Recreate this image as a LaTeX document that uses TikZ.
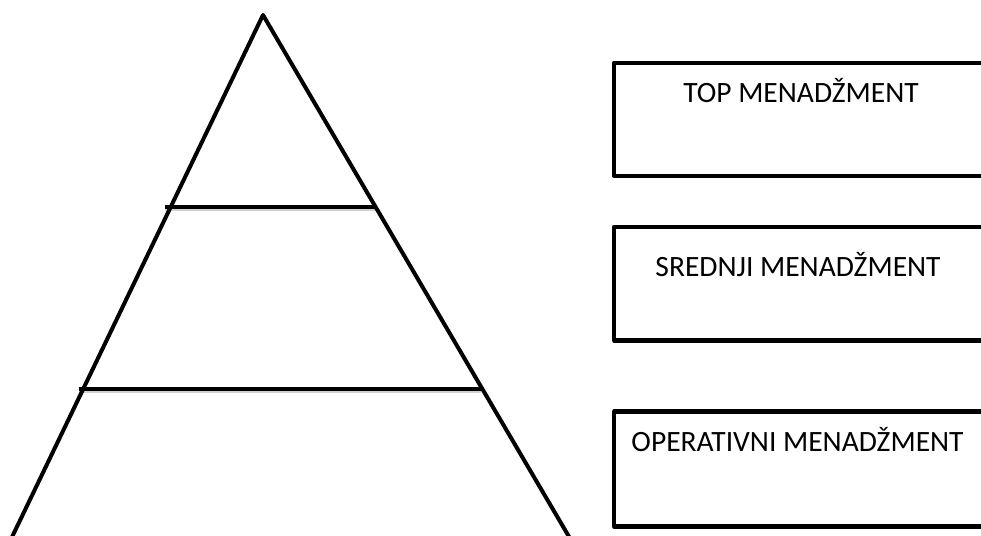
\documentclass[tikz,border=0pt]{standalone}
\usepackage{fontspec}
\setmainfont{Carlito}
\usetikzlibrary{calc}
\begin{document}
\begin{tikzpicture}[x=1pt,y=-1pt,line join=round,
  side/.style={line width=4pt},
  rung/.style={line width=3.8pt},
  rungshadow/.style={line width=3pt,black!18},
  lvlbox/.style={draw,line width=4.4pt,rectangle,anchor=north west,minimum width=400pt,inner sep=0pt},
  lbl/.style={font=\fontsize{29.5}{32}\selectfont,anchor=base,inner sep=0pt}]
\useasboundingbox (0,0) rectangle (981,535);
\clip (0,0) rectangle (981,535);
% pyramid
\coordinate (apex) at (263,15);
\coordinate (bl) at ($(263,15)!1.04!(13,535)$);
\coordinate (br) at ($(263,15)!1.04!(568,535)$);
\coordinate (r1l) at (165,207);
\coordinate (r1r) at (376,207);
\coordinate (r2l) at (79,389);
\coordinate (r2r) at (481,389);
\draw[rungshadow] ([yshift=-2.5pt]r1l) -- ([yshift=-2.5pt]r1r);
\draw[rungshadow] ([yshift=-2.5pt]r2l) -- ([yshift=-2.5pt]r2r);
\draw[rung] (r1l) -- (r1r);
\draw[rung] (r2l) -- (r2r);
\draw[side] (bl) -- (apex) -- (br);
% level boxes
\node[lvlbox,minimum height=113.5pt] (top) at (612,60.5) {};
\node[lvlbox,minimum height=113.6pt] (mid) at (612,224.7) {};
\node[lvlbox,minimum height=115pt] (ops) at (612,409.3) {};
\node[lbl] (toplbl) at (801,102) {TOP MENADŽMENT};
\node[lbl] (midlbl) at (798,276) {SREDNJI MENADŽMENT};
\node[lbl] (opslbl) at (797.5,451) {OPERATIVNI MENADŽMENT};
\end{tikzpicture}
\end{document}
